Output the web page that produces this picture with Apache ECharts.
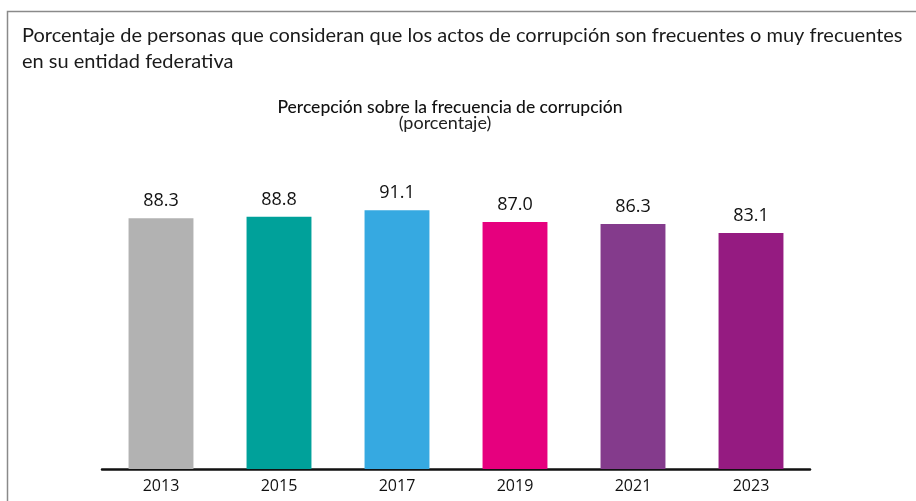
<!DOCTYPE html>
<html>
<head>
<meta charset="utf-8">
<script src="https://cdn.jsdelivr.net/npm/echarts@6/dist/echarts.min.js"></script>
<style>
  html, body { margin: 0; padding: 0; background: #fff; }
  #chart { width: 916px; height: 501px; }
</style>
</head>
<body>
<div id="chart"></div>
<script>
// datos
const years = ['2013', '2015', '2017', '2019', '2021', '2023'];
const values = [88.3, 88.8, 91.1, 87.0, 86.3, 83.1];
const barColors = ['#b2b2b2', '#00a19a', '#36a9e1', '#e6007e', '#843b8c', '#951b81'];

const chart = echarts.init(document.getElementById('chart'));

const option = {
  animation: false,
  graphic: [
    // marco
    {
      type: 'polyline',
      shape: { points: [[7.5, 520], [7.5, 11.5], [930, 11.5]] },
      style: { fill: null, stroke: '#8a8a8a', lineWidth: 1.5 },
      silent: true
    },
    {
      type: 'text',
      x: 22,
      y: 23,
      style: {
        text: 'Porcentaje de personas que consideran que los actos de corrupción son frecuentes o muy frecuentes\nen su entidad federativa',
        font: 'normal 20px Lato, sans-serif',
        fill: '#1a1a1a',
        lineHeight: 26
      }
    },
    {
      type: 'text',
      x: 450,
      y: 107,
      style: {
        text: 'Percepción sobre la frecuencia de corrupción',
        font: '500 17.5px Lato, sans-serif',
        fill: '#111',
        align: 'center',
        verticalAlign: 'middle'
      }
    },
    {
      type: 'text',
      x: 445,
      y: 123,
      style: {
        text: '(porcentaje)',
        font: 'normal 18px Lato, sans-serif',
        fill: '#222',
        align: 'center',
        verticalAlign: 'middle'
      }
    }
  ],
  grid: { left: 102, right: 106, top: 185, bottom: 32 },
  xAxis: {
    type: 'category',
    data: years,
    axisTick: { show: false },
    axisLine: { lineStyle: { color: '#111', width: 2.5 } },
    axisLabel: {
      margin: 9,
      fontFamily: 'Open Sans, sans-serif',
      fontSize: 16,
      color: '#111'
    }
  },
  yAxis: {
    type: 'value',
    min: 0,
    max: 100,
    show: false
  },
  series: [
    {
      type: 'bar',
      barCategoryGap: '45%',
      data: values.map((v, i) => ({ value: v, itemStyle: { color: barColors[i] } })),
      label: {
        show: true,
        position: 'top',
        distance: 8,
        formatter: (p) => p.value.toFixed(1),
        fontFamily: 'Open Sans, sans-serif',
        fontSize: 18,
        color: '#111'
      }
    }
  ]
};

chart.setOption(option);
</script>
</body>
</html>
